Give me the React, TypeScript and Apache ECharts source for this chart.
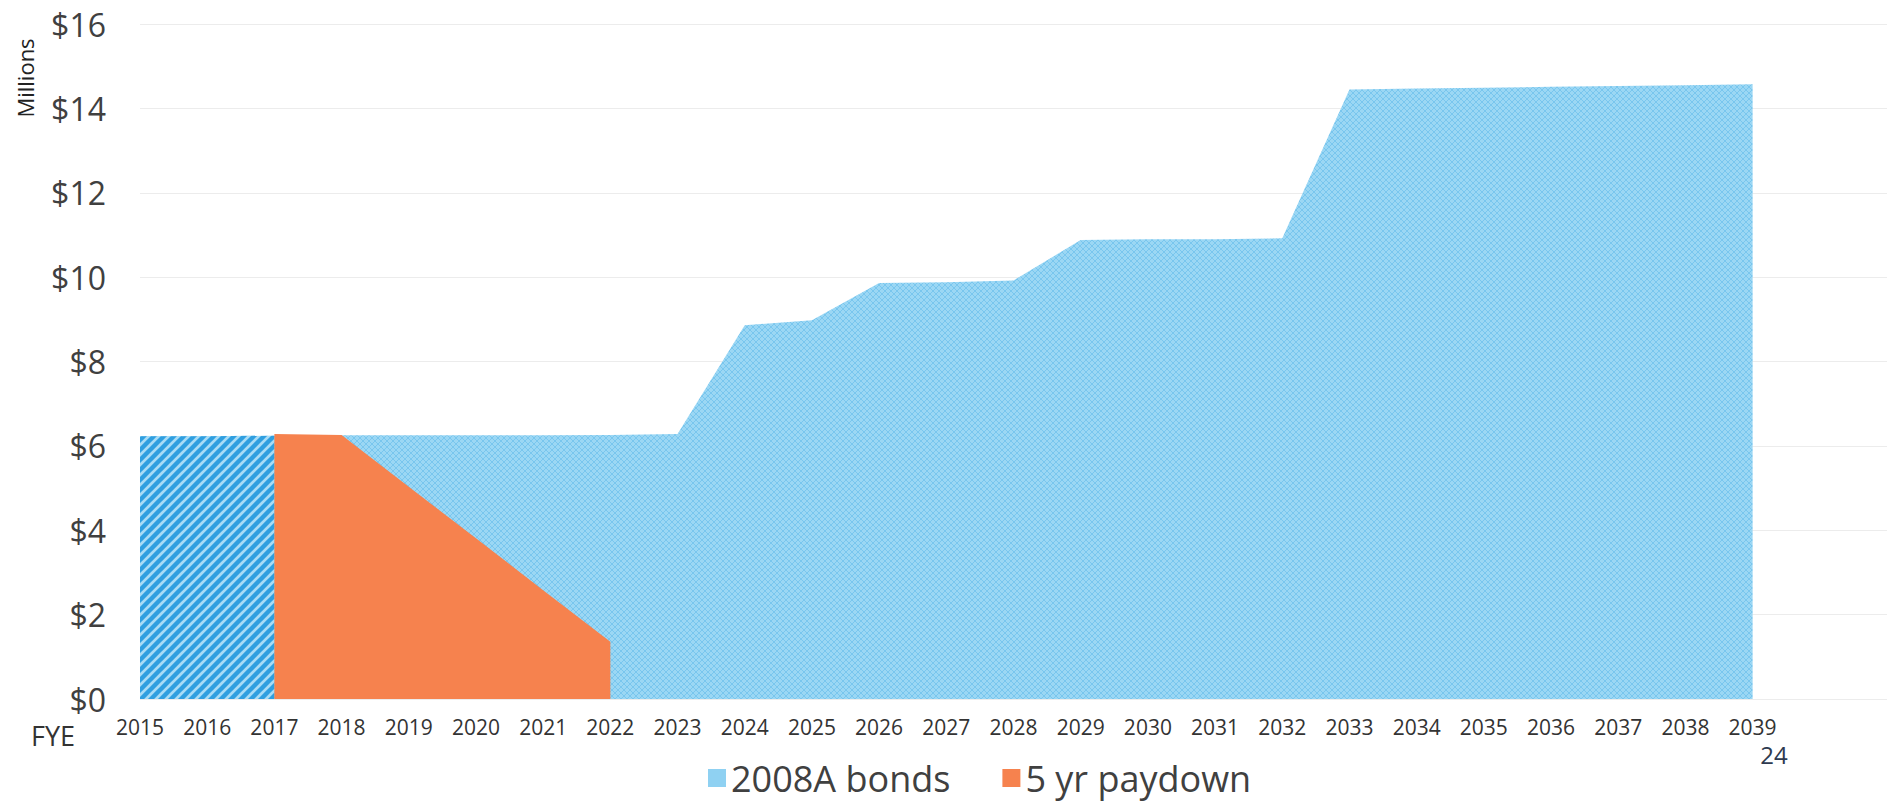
import React, { useEffect, useRef } from "react";
import * as echarts from "echarts";

const years = [
  "2015", "2016", "2017", "2018", "2019", "2020", "2021", "2022", "2023", "2024",
  "2025", "2026", "2027", "2028", "2029", "2030", "2031", "2032", "2033", "2034",
  "2035", "2036", "2037", "2038", "2039",
];

// 2008A bonds (millions)
const bonds2008A = [
  6.23, 6.23, 6.24, 6.25, 6.25, 6.25, 6.25, 6.26, 6.28, 8.86,
  8.98, 9.86, 9.88, 9.92, 10.88, 10.9, 10.9, 10.92, 14.45, 14.47,
  14.49, 14.51, 14.53, 14.55, 14.57,
];

// already-paid (hatched) part of 2008A bonds
const bondsPaid = [6.23, 6.23, 6.24];

// 5 yr paydown (millions)
const paydown = [null, null, 6.28, 6.26, 5.03, 3.81, 2.58, 1.36];

const yTicks = [0, 2, 4, 6, 8, 10, 12, 14, 16];

const FONT = "'Open Sans', 'Noto Sans', sans-serif";

function makeStripe() {
  const c = document.createElement("canvas");
  c.width = 10;
  c.height = 10;
  const ctx = c.getContext("2d")!;
  ctx.fillStyle = "#a8dcf6";
  ctx.fillRect(0, 0, 10, 10);
  ctx.strokeStyle = "#2f9fe0";
  ctx.lineWidth = 4.4;
  ctx.beginPath();
  ctx.moveTo(-5, 5);
  ctx.lineTo(5, -5);
  ctx.moveTo(0, 10);
  ctx.lineTo(10, 0);
  ctx.moveTo(5, 15);
  ctx.lineTo(15, 5);
  ctx.stroke();
  return { image: c.toDataURL(), imageWidth: 10, imageHeight: 10, repeat: "repeat" };
}

function makeTexture() {
  const c = document.createElement("canvas");
  c.width = 6;
  c.height = 6;
  const ctx = c.getContext("2d")!;
  ctx.fillStyle = "#9bd7f4";
  ctx.fillRect(0, 0, 6, 6);
  ctx.strokeStyle = "rgba(110,192,236,0.75)";
  ctx.lineWidth = 1;
  ctx.beginPath();
  ctx.moveTo(0, 0);
  ctx.lineTo(6, 6);
  ctx.moveTo(0, 6);
  ctx.lineTo(6, 0);
  ctx.stroke();
  return { image: c.toDataURL(), imageWidth: 6, imageHeight: 6, repeat: "repeat" };
}

export default function App() {
  const ref = useRef<HTMLDivElement>(null);
  useEffect(() => {
    if (!ref.current) return;
    const chart = echarts.init(ref.current, null, { renderer: "svg" });
    const blue = "#8fd1f2";
    const orange = "#f6824e";
    const pts = (arr: (number | null)[]) =>
      years.map((y, i) => [Number(y), i < arr.length ? arr[i] : null]);
    const firstYear = Number(years[0]);
    const lastYear = Number(years[years.length - 1]);
    chart.setOption({
      animation: false,
      backgroundColor: "#ffffff",
      grid: { left: 140, right: 13, top: 24, bottom: 110, containLabel: false },
      legend: {
        left: 703,
        top: 755,
        itemWidth: 18,
        itemHeight: 18,
        itemGap: 52,
        icon: "rect",
        textStyle: { fontFamily: FONT, fontSize: 36, color: "#404040" },
        data: [
          { name: "2008A bonds", itemStyle: { color: blue } },
          { name: "5 yr paydown", itemStyle: { color: orange } },
        ],
      },
      xAxis: {
        type: "value",
        min: firstYear,
        max: lastYear + 2,
        interval: 1,
        axisLine: { show: false },
        axisTick: { show: false },
        axisLabel: {
          fontFamily: FONT,
          fontSize: 21,
          color: "#333333",
          margin: 17,
          formatter: (v: number) => (years.includes(String(v)) ? String(v) : ""),
        },
        splitLine: { show: false },
      },
      yAxis: {
        type: "value",
        min: 0,
        max: 16,
        interval: 2,
        axisLine: { show: false },
        axisTick: { show: false },
        axisLabel: {
          fontFamily: FONT,
          fontSize: 32,
          color: "#404040",
          margin: 34,
          formatter: (v: number) => (yTicks.includes(v) ? "$" + v : ""),
        },
        splitLine: { lineStyle: { color: "#ececec", width: 1 } },
      },
      series: [
        {
          name: "2008A bonds",
          type: "line",
          data: pts(bonds2008A),
          showSymbol: false,
          symbol: "none",
          lineStyle: { width: 0 },
          itemStyle: { color: blue },
          areaStyle: { color: makeTexture(), opacity: 1 },
          z: 2,
        },
        {
          name: "2008A paid",
          type: "line",
          data: pts(bondsPaid),
          showSymbol: false,
          symbol: "none",
          lineStyle: { width: 0 },
          areaStyle: { color: makeStripe(), opacity: 1 },
          z: 3,
        },
        {
          name: "5 yr paydown",
          type: "line",
          data: pts(paydown),
          showSymbol: false,
          symbol: "none",
          lineStyle: { width: 0 },
          itemStyle: { color: orange },
          areaStyle: { color: orange, opacity: 1 },
          z: 4,
        },
      ],
      graphic: [
        {
          type: "text",
          x: 25,
          y: 78,
          rotation: Math.PI / 2,
          style: {
            text: "Millions",
            fontFamily: FONT,
            fontSize: 22,
            fill: "#222222",
            align: "center",
            verticalAlign: "middle",
          },
        },
        {
          type: "text",
          x: 53,
          y: 735,
          style: {
            text: "FYE",
            fontFamily: FONT,
            fontSize: 27,
            fill: "#333333",
            align: "center",
            verticalAlign: "middle",
          },
        },
        {
          type: "text",
          x: 1774,
          y: 754,
          style: {
            text: "24",
            fontFamily: FONT,
            fontSize: 24,
            fill: "#2e3a4f",
            align: "center",
            verticalAlign: "middle",
          },
        },
      ],
    });
    return () => chart.dispose();
  }, []);
  return <div ref={ref} style={{ width: 1900, height: 809, margin: -8 }} />;
}
